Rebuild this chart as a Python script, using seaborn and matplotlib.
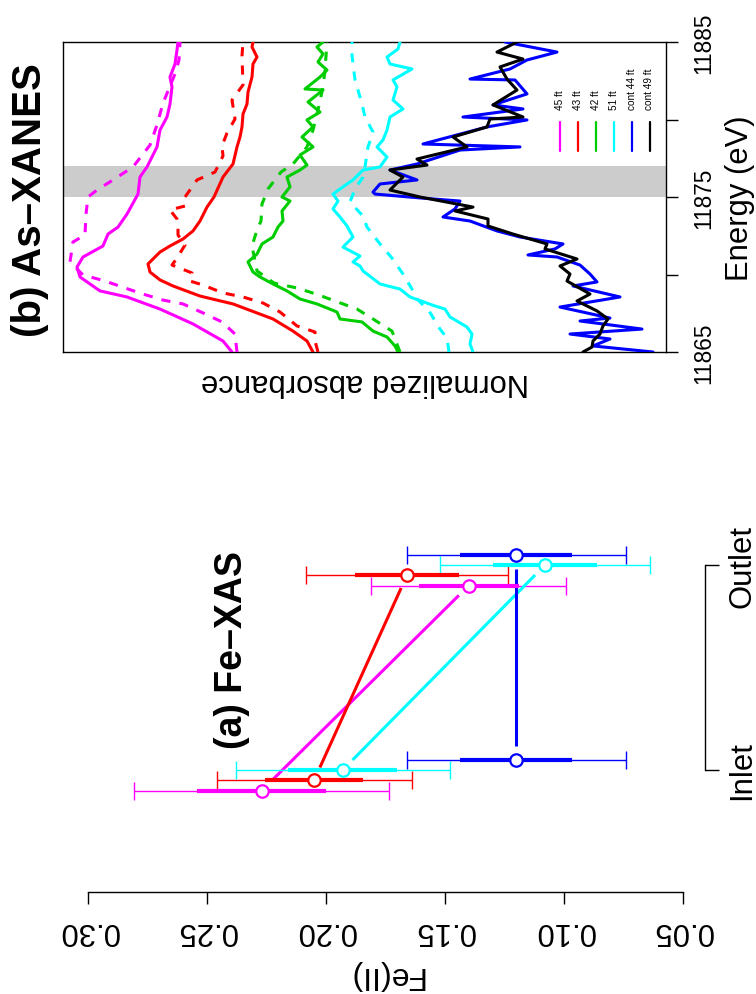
import numpy as np
import pandas as pd
import matplotlib
matplotlib.use("Agg")
import matplotlib.pyplot as plt
from matplotlib.lines import Line2D
import seaborn as sns

sns.set_theme(style="white")
plt.rcParams["font.family"] = ["Liberation Sans", "DejaVu Sans"]

# ---------------- Panel (a) data: Fe(II) fraction ----------------
fe_sites = ["45 ft", "43 ft", "51 ft", "cont 44 ft"]
fe_colors = ["#FF00FF", "#FF0000", "#00FFFF", "#0000FF"]
categories = ["Inlet", "Outlet"]
fe_inlet = [0.227, 0.205, 0.193, 0.120]
fe_outlet = [0.140, 0.166, 0.108, 0.120]
se_inlet = [0.027, 0.0205, 0.023, 0.0235]
se_outlet = [0.021, 0.022, 0.022, 0.0235]
ci_inlet = [0.0536, 0.041, 0.045, 0.046]
ci_outlet = [0.041, 0.0425, 0.044, 0.046]
fe_ticks = [0.05, 0.10, 0.15, 0.20, 0.25, 0.30]

# ---------------- Panel (b) data: As-XANES spectra ----------------
e45_solid = [11865.00, 11865.71, 11866.81, 11867.77, 11868.55, 11868.94, 11869.84, 11870.48, 11871.13,
             11871.84, 11872.61, 11873.06, 11873.90, 11875.19, 11876.29, 11876.94, 11878.23, 11879.32,
             11880.16, 11881.00, 11882.10, 11882.74, 11883.58, 11884.48, 11885.00]
a45_solid = [4.34, 4.43, 4.73, 5.06, 5.39, 5.66, 5.86, 5.89, 5.83, 5.63, 5.58, 5.48, 5.39, 5.28, 5.26,
             5.19, 5.09, 5.06, 4.99, 4.96, 4.94, 4.96, 4.91, 4.89, 4.88]
e45_dash = [11865.00, 11866.16, 11866.94, 11867.52, 11868.10, 11868.35, 11868.74, 11869.13, 11869.58,
            11869.97, 11870.81, 11872.10, 11872.55, 11873.90, 11875.00, 11875.45, 11876.10, 11876.94,
            11878.35, 11879.65, 11880.35, 11881.06, 11882.94, 11883.84, 11885.00]
a45_dash = [4.29, 4.31, 4.44, 4.63, 4.83, 5.03, 5.23, 5.41, 5.61, 5.83, 5.96, 5.93, 5.81, 5.80, 5.78,
            5.69, 5.53, 5.33, 5.16, 5.09, 5.06, 5.03, 4.91, 4.87, 4.86]

e43_solid = [11865.00, 11865.71, 11866.35, 11867.13, 11868.10, 11868.61, 11869.26, 11869.65, 11870.16,
             11870.68, 11871.45, 11871.84, 11872.29, 11872.81, 11873.45, 11874.35, 11875.00, 11876.29,
             11877.13, 11878.23, 11878.87, 11879.52, 11880.35, 11881.00, 11881.77, 11882.74, 11883.58,
             11884.03, 11884.68, 11885.00]
a43_solid = [3.53, 3.59, 3.73, 3.93, 4.33, 4.66, 4.93, 5.06, 5.16, 5.18, 5.06, 4.96, 4.83, 4.73, 4.66,
             4.59, 4.52, 4.43, 4.33, 4.29, 4.26, 4.24, 4.23, 4.19, 4.18, 4.14, 4.13, 4.09, 4.14, 4.13]
e43_dash = [11865.00, 11865.71, 11866.29, 11866.68, 11867.58, 11868.16, 11868.55, 11868.81, 11869.32,
            11869.58, 11870.10, 11870.61, 11871.06, 11871.90, 11872.55, 11873.13, 11873.58, 11874.16,
            11874.42, 11875.00, 11876.10, 11876.61, 11877.65, 11878.29, 11879.13, 11880.03, 11881.26,
            11882.23, 11884.10, 11885.00]
a43_dash = [3.48, 3.51, 3.51, 3.69, 3.86, 4.03, 4.23, 4.43, 4.63, 4.76, 4.74, 4.94, 4.89, 4.81, 4.88,
            4.88, 4.89, 4.96, 4.81, 4.81, 4.69, 4.51, 4.43, 4.44, 4.39, 4.31, 4.34, 4.23, 4.24, 4.23]

e42_solid = [11865.00, 11865.39, 11865.97, 11866.35, 11866.94, 11867.13, 11867.58, 11868.10, 11868.42,
             11868.94, 11869.39, 11869.84, 11870.16, 11870.81, 11871.32, 11871.97, 11872.42, 11873.06,
             11873.45, 11874.10, 11874.74, 11875.00, 11875.65, 11876.29, 11876.74, 11877.06, 11877.71,
             11878.23, 11878.87, 11879.52, 11879.97, 11880.48, 11881.13, 11881.90, 11881.97, 11882.74,
             11883.19, 11883.71, 11884.23, 11884.68, 11885.00]
a42_solid = [2.68, 2.71, 2.79, 2.93, 3.04, 3.26, 3.29, 3.49, 3.66, 3.79, 3.93, 4.06, 4.13, 4.18, 4.09,
             4.04, 3.93, 3.88, 3.83, 3.84, 3.76, 3.84, 3.76, 3.79, 3.66, 3.59, 3.66, 3.53, 3.64, 3.53,
             3.59, 3.46, 3.58, 3.43, 3.61, 3.46, 3.39, 3.48, 3.43, 3.49, 3.43]
e42_dash = [11865.00, 11866.35, 11867.13, 11867.77, 11868.29, 11868.74, 11869.13, 11869.45, 11870.23,
            11871.84, 11872.87, 11873.45, 11874.55, 11875.52, 11876.61, 11877.13, 11878.23, 11879.32,
            11880.61, 11882.10, 11883.19, 11885.00]
a42_dash = [2.66, 2.74, 2.93, 3.09, 3.31, 3.50, 3.69, 3.92, 4.09, 4.14, 4.09, 4.05, 4.04, 3.98, 3.85,
            3.73, 3.59, 3.53, 3.48, 3.43, 3.41, 3.39]

e51_solid = [11865.00, 11865.52, 11866.16, 11866.61, 11867.26, 11867.77, 11867.97, 11868.55, 11869.06,
             11869.39, 11870.23, 11870.55, 11870.81, 11871.19, 11871.77, 11872.42, 11873.13, 11873.71,
             11874.23, 11874.74, 11875.19, 11875.84, 11876.10, 11876.74, 11876.94, 11877.58, 11878.23,
             11878.68, 11879.32, 11880.16, 11880.68, 11881.26, 11882.10, 11882.55, 11883.26, 11883.58,
             11884.03, 11884.55, 11885.00]
a51_solid = [1.93, 1.96, 1.94, 1.99, 2.16, 2.21, 2.31, 2.56, 2.66, 2.86, 3.03, 3.06, 3.13, 3.06, 3.23,
             3.13, 3.19, 3.26, 3.33, 3.28, 3.33, 3.19, 3.13, 3.03, 2.86, 2.79, 2.89, 2.83, 2.79, 2.76,
             2.63, 2.73, 2.69, 2.73, 2.54, 2.76, 2.79, 2.68, 2.66]
e51_dash = [11865.00, 11865.90, 11866.48, 11867.65, 11868.42, 11869.06, 11870.03, 11871.06, 11871.97,
            11873.06, 11873.77, 11874.68, 11875.52, 11876.29, 11876.94, 11878.23, 11879.19, 11880.16,
            11881.00, 11882.55, 11884.16, 11885.00]
a51_dash = [2.17, 2.19, 2.26, 2.37, 2.49, 2.54, 2.63, 2.74, 2.86, 2.99, 3.03, 3.16, 3.11, 3.03, 3.01,
            2.98, 2.93, 3.01, 3.04, 3.11, 3.14, 3.14]

e_c44 = [11865.00, 11865.39, 11865.84, 11866.16, 11866.48, 11867.00, 11867.19, 11867.90, 11868.55,
         11869.26, 11869.52, 11870.03, 11870.61, 11871.13, 11871.26, 11871.65, 11871.97, 11872.42,
         11872.81, 11873.45, 11873.71, 11874.23, 11874.74, 11874.94, 11875.19, 11875.32, 11875.84,
         11876.10, 11876.74, 11877.13, 11878.03, 11878.23, 11878.42, 11879.52, 11879.97, 11880.16,
         11880.68, 11880.94, 11881.65, 11882.55, 11882.61, 11883.26, 11883.84, 11884.35, 11885.00]
a_c44 = [0.13, 0.73, 0.56, 0.96, 0.24, 0.86, 0.56, 1.06, 0.46, 0.93, 0.69, 0.76, 0.86, 1.09, 1.38,
         1.11, 1.03, 1.46, 1.69, 1.96, 2.23, 2.11, 2.06, 2.46, 2.91, 2.93, 2.86, 2.49, 2.76, 2.49,
         2.06, 1.46, 2.43, 1.79, 1.39, 2.03, 1.43, 1.73, 1.39, 1.51, 1.96, 1.56, 1.39, 1.09, 1.61]
e_c49 = [11865.00, 11865.32, 11865.71, 11866.16, 11866.68, 11867.13, 11867.65, 11868.29, 11868.74,
         11869.58, 11870.03, 11870.55, 11871.00, 11871.65, 11871.97, 11872.61, 11873.13, 11873.58,
         11874.10, 11874.35, 11875.00, 11875.45, 11876.29, 11876.74, 11877.06, 11877.45, 11878.23,
         11878.87, 11879.52, 11880.03, 11880.16, 11880.94, 11881.90, 11882.61, 11883.39, 11883.90,
         11884.35, 11885.00]
a_c49 = [0.83, 0.74, 0.73, 0.66, 0.63, 0.58, 0.69, 0.89, 0.76, 0.99, 0.96, 1.06, 0.89, 1.21, 1.19,
         1.53, 1.78, 1.78, 2.11, 1.93, 2.46, 2.76, 2.63, 2.76, 2.39, 2.49, 1.99, 2.13, 1.79, 1.76,
         1.43, 1.73, 1.49, 1.59, 1.66, 1.43, 1.69, 1.49]

legend_labels = ["45 ft", "43 ft", "42 ft", "51 ft", "cont 44 ft", "cont 49 ft"]
legend_colors = ["#FF00FF", "#FF0000", "#00CD00", "#00FFFF", "#0000FF", "#000000"]
band_lo, band_hi = 11875.0, 11877.0
energy_ticks = [11865, 11870, 11875, 11880, 11885]
energy_ticklabels = ["11865", "", "11875", "", "11885"]

# ---------------- figure ----------------
W, H = 756, 995
fig = plt.figure(figsize=(W / 100, H / 100), dpi=100)
fig.patch.set_facecolor("white")


def fx(px):
    return px / W


def fy(px):
    return 1 - px / H


PT = 0.72  # points per pixel at 100 dpi

# ================= Panel (b) =================
ax2 = fig.add_axes([fx(63), fy(353), (666 - 63) / W, (353 - 43) / H])
ax2.set_facecolor("white")
ax2.axhspan(band_lo, band_hi, color="#CCCCCC", lw=0, zorder=0)

curves = [
    (e45_solid, a45_solid, "#FF00FF", "-"),
    (e45_dash, a45_dash, "#FF00FF", (0, (3, 3))),
    (e43_solid, a43_solid, "#FF0000", "-"),
    (e43_dash, a43_dash, "#FF0000", (0, (3, 3))),
    (e42_solid, a42_solid, "#00CD00", "-"),
    (e42_dash, a42_dash, "#00CD00", (0, (3, 3))),
    (e51_solid, a51_solid, "#00FFFF", "-"),
    (e51_dash, a51_dash, "#00FFFF", (0, (3, 3))),
    (e_c44, a_c44, "#0000FF", "-"),
    (e_c49, a_c49, "#000000", "-"),
]
for e, a, c, ls in curves:
    df = pd.DataFrame({"energy": e, "absorbance": a})
    sns.lineplot(data=df, x="absorbance", y="energy", orient="y", sort=False,
                 estimator=None, color=c, linestyle=ls, lw=2.2, ax=ax2, zorder=3)

ax2.set_xlim(6.03, 0)
ax2.set_ylim(11865, 11885)
ax2.set_xticks([])
for s in ax2.spines.values():
    s.set_visible(True)
    s.set_color("black")
    s.set_linewidth(1.0)
ax2.yaxis.tick_right()
ax2.yaxis.set_label_position("right")
ax2.set_yticks(energy_ticks)
ax2.set_yticklabels(energy_ticklabels, rotation=90, va="center", fontsize=16.3)
ax2.tick_params(axis="y", direction="out", length=12 * PT, width=1.0, pad=10,
                right=True, left=False, colors="black")
ax2.set_ylabel("Energy (eV)", fontsize=22.3, rotation=90, color="black")
ax2.yaxis.set_label_coords((740 - 63) / 603, 0.5)
ax2.yaxis.label.set_va("center")
ax2.yaxis.label.set_ha("center")
ax2.set_xlabel("Normalized absorbance", fontsize=22.3, rotation=180, color="black")
ax2.xaxis.set_label_coords(0.5, (353 - 382) / 310)
ax2.xaxis.label.set_va("center")

# legend (vertical keys, text reading upward)
for i, (lab, col) in enumerate(zip(legend_labels, legend_colors)):
    xp = 560 + i * 17.9
    fig.add_artist(Line2D([fx(xp), fx(xp)], [fy(123), fy(152)], transform=fig.transFigure,
                          color=col, lw=1.6))
    fig.text(fx(xp), fy(110), lab, rotation=90, rotation_mode="anchor", ha="left",
             va="center", fontsize=7.2, color="black")

fig.text(fx(30), fy(200), "(b) As\u2013XANES", rotation=90, ha="center", va="center",
         fontsize=29, fontweight="bold", color="black")

# ================= Panel (a) =================
ax1 = fig.add_axes([fx(64.2), fy(880), (718.7 - 64.2) / W, (880 - 450) / H])
ax1.set_facecolor("white")
ax1.set_xlim(0.31, 0.035)
ax1.set_ylim(0.4683, 2.5659)
offsets = [-0.10, -0.05, 0.0, 0.05]

gap = 14  # px gap between connecting line and point (R type = "b")
for i, c in enumerate(fe_colors):
    pos = np.array([1 + offsets[i], 2 + offsets[i]])
    vals = np.array([fe_inlet[i], fe_outlet[i]])
    ax1.errorbar(vals, pos, xerr=[ci_inlet[i], ci_outlet[i]], fmt="none", ecolor=c,
                 elinewidth=1.0, capsize=6.5, capthick=1.0, zorder=2)
    ax1.errorbar(vals, pos, xerr=[se_inlet[i], se_outlet[i]], fmt="none", ecolor=c,
                 elinewidth=3.0, capsize=0, zorder=3)
    P = ax1.transData.transform(np.column_stack([vals, pos]))
    d = P[1] - P[0]
    u = d / np.hypot(*d)
    Q = np.array([P[0] + u * gap, P[1] - u * gap])
    D = ax1.transData.inverted().transform(Q)
    ax1.plot(D[:, 0], D[:, 1], color=c, lw=2.2, zorder=2, solid_capstyle="butt")
    pts = pd.DataFrame({"fe": vals, "pos": pos})
    sns.scatterplot(data=pts, x="fe", y="pos", ax=ax1, s=80, marker="o",
                    facecolor="white", edgecolor=c, linewidth=1.6, zorder=4)

ax1.spines["top"].set_visible(False)
ax1.spines["left"].set_visible(False)
ax1.spines["bottom"].set_position(("outward", 13 * PT))
ax1.spines["bottom"].set_bounds(0.05, 0.30)
ax1.spines["right"].set_position(("outward", -13.7 * PT))
ax1.spines["right"].set_bounds(1, 2)
for s in ["bottom", "right"]:
    ax1.spines[s].set_color("black")
    ax1.spines[s].set_linewidth(1.0)
ax1.set_xticks(fe_ticks)
ax1.set_xticklabels([f"{t:.2f}" for t in fe_ticks], rotation=180, fontsize=22.3)
ax1.tick_params(axis="x", direction="out", length=12 * PT, width=1.0, pad=8,
                bottom=True, colors="black")
ax1.yaxis.tick_right()
ax1.set_yticks([1, 2])
ax1.set_yticklabels(categories, rotation=90, va="center", fontsize=22.3)
ax1.tick_params(axis="y", direction="out", length=14 * PT, width=1.0, pad=6,
                right=True, left=False, colors="black")
ax1.set_xlabel("Fe(II)", fontsize=23, rotation=180, color="black")
ax1.xaxis.set_label_coords((385 - 64.2) / 654.5, (880 - 975) / 430)
ax1.xaxis.label.set_va("center")
ax1.set_ylabel("")

fig.text(fx(232), fy(650), "(a) Fe\u2013XAS", rotation=90, ha="center", va="center",
         fontsize=27, fontweight="bold", color="black")

fig.savefig("out.png", dpi=100, facecolor="white")
